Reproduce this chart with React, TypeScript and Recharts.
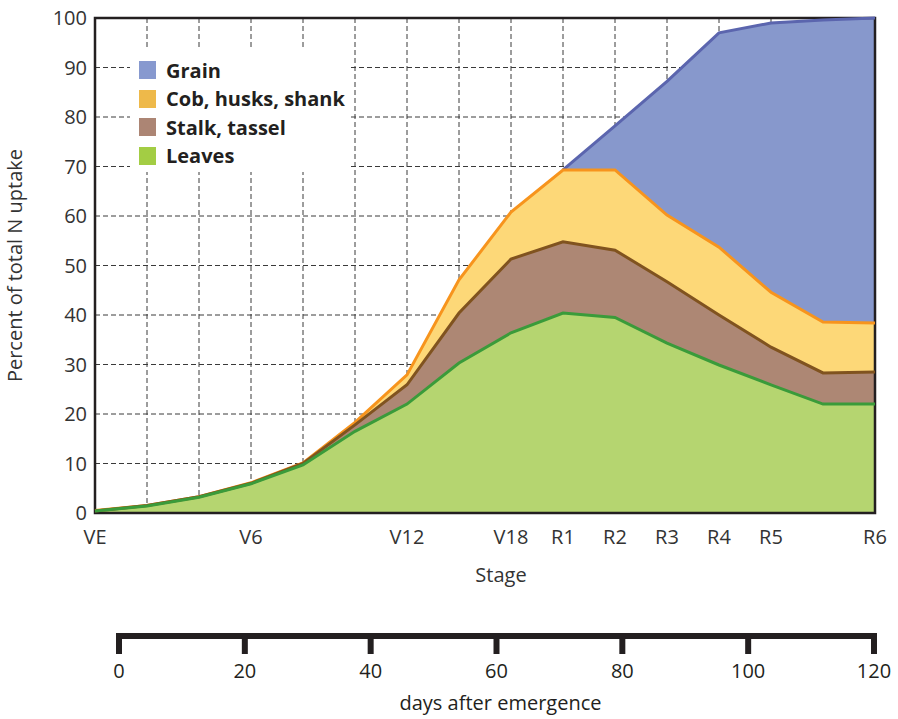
import {
  ComposedChart,
  Area,
  Line,
  XAxis,
  YAxis,
  CartesianGrid,
  ReferenceArea,
  Legend,
} from "recharts";

// x index 0..15, one per grid column
const stageLabels = ["VE", "", "", "V6", "", "", "V12", "", "V18", "R1", "R2", "R3", "R4", "R5", "", "R6"];

// percent of total N uptake, per plant part (stacked)
const leaves = [0.4, 1.4, 3.2, 5.9, 9.7, 16.5, 22, 30.3, 36.4, 40.4, 39.5, 34.3, 29.9, 25.9, 22, 22];
const stalk = [0, 0.1, 0.1, 0.1, 0.3, 1.3, 3.9, 10.1, 14.9, 14.4, 13.6, 12.4, 10.1, 7.6, 6.3, 6.5];
const cob = [0.1, 0, 0, 0.1, 0.1, 0.5, 2, 6.7, 9.5, 14.5, 16.2, 13.5, 13.7, 11.1, 10.3, 9.9];
const grain = [null, null, null, null, null, null, null, null, null, 0, 8.9, 27, 43.3, 54.4, 61, 61.6];

const yTicks = [0, 10, 20, 30, 40, 50, 60, 70, 80, 90, 100];
const dayTicks = [0, 20, 40, 60, 80, 100, 120];

const legendNames = ["Grain", "Cob, husks, shank", "Stalk, tassel", "Leaves"];
const legendColors = ["#8799cf", "#eeb94a", "#ac8574", "#a3cd44"];

const rows = stageLabels.map((stage, i) => {
  const leavesTop = leaves[i];
  const stalkTop = leavesTop + stalk[i];
  const cobTop = stalkTop + cob[i];
  const g = grain[i];
  return {
    x: i,
    stage,
    leaves: leaves[i],
    stalk: stalk[i],
    cob: cob[i],
    grain: g,
    leavesTop,
    stalkTop,
    cobTop,
    grainTop: g == null ? null : cobTop + g,
  };
});

const dayRows = dayTicks.map((d) => ({ d }));

const FONT = "'Open Sans', sans-serif";
const INK = "#231f20";

function LegendBox() {
  return (
    <div
      style={{
        background: "#fff",
        width: 220,
        height: 122,
        boxSizing: "border-box",
        padding: "6px 0 0 9px",
        fontFamily: FONT,
      }}
    >
      {legendNames.map((name, i) => (
        <div key={name} style={{ display: "flex", alignItems: "center", height: 28.5 }}>
          <span
            style={{
              display: "inline-block",
              width: 17,
              height: 18,
              background: legendColors[i],
              marginRight: 10,
            }}
          />
          <span style={{ fontWeight: 700, fontSize: 20, color: INK, whiteSpace: "nowrap" }}>
            {name}
          </span>
        </div>
      ))}
    </div>
  );
}

export default function App() {
  return (
    <div
      style={{
        position: "absolute",
        left: 0,
        top: 0,
        width: 898,
        height: 719,
        background: "#fff",
        fontFamily: FONT,
      }}
    >
      <div style={{ position: "absolute", left: 0, top: 0 }}>
        <ComposedChart
          width={898}
          height={600}
          data={rows}
          margin={{ top: 18, right: 23, left: 0, bottom: 0 }}
          style={{ fontFamily: FONT }}
        >
          <CartesianGrid stroke="#3a3a3a" strokeDasharray="5 3" strokeWidth={1} />
          <XAxis
            dataKey="x"
            type="number"
            domain={[0, 15]}
            ticks={rows.map((r) => r.x)}
            interval={0}
            tickFormatter={(v: number) => stageLabels[v] ?? ""}
            height={87}
            axisLine={false}
            tickLine={false}
            tickMargin={11}
            tick={{ fontSize: 20, fill: "#333" }}
            label={{
              content: ({ viewBox }: any) => (
                <text
                  x={viewBox.x + viewBox.width / 2 + 16}
                  y={viewBox.y + 69}
                  textAnchor="middle"
                  fontSize={20}
                  fill="#333"
                  fontFamily={FONT}
                >
                  Stage
                </text>
              ),
            }}
          />
          <YAxis
            type="number"
            domain={[0, 100]}
            ticks={yTicks}
            interval={0}
            width={95}
            axisLine={false}
            tickLine={false}
            tick={{ fontSize: 20, fill: "#333" }}
            label={{
              content: ({ viewBox }: any) => {
                const cx = 21.5;
                const cy = viewBox.y + viewBox.height / 2;
                return (
                  <text
                    x={cx}
                    y={cy}
                    transform={`rotate(-90, ${cx}, ${cy})`}
                    textAnchor="middle"
                    fontSize={20}
                    fill="#333"
                    fontFamily={FONT}
                  >
                    Percent of total N uptake
                  </text>
                );
              },
            }}
          />
          <Area dataKey="leaves" stackId="n" type="linear" fill="#b5d570" fillOpacity={1} stroke="none" isAnimationActive={false} />
          <Area dataKey="stalk" stackId="n" type="linear" fill="#ad8774" fillOpacity={1} stroke="none" isAnimationActive={false} />
          <Area dataKey="cob" stackId="n" type="linear" fill="#fdd878" fillOpacity={1} stroke="none" isAnimationActive={false} />
          <Area dataKey="grain" stackId="n" type="linear" fill="#8798cc" fillOpacity={1} stroke="none" isAnimationActive={false} />
          <Line dataKey="grainTop" type="linear" stroke="#5b65ae" strokeWidth={3} dot={false} activeDot={false} isAnimationActive={false} />
          <Line dataKey="cobTop" type="linear" stroke="#f7941d" strokeWidth={3} dot={false} activeDot={false} isAnimationActive={false} />
          <Line dataKey="stalkTop" type="linear" stroke="#80531f" strokeWidth={3} dot={false} activeDot={false} isAnimationActive={false} />
          <Line dataKey="leavesTop" type="linear" stroke="#3a9b3a" strokeWidth={3} dot={false} activeDot={false} isAnimationActive={false} />
          <ReferenceArea x1={0} x2={15} y1={0} y2={100} fill="none" stroke={INK} strokeWidth={2.5} />
          <Legend
            layout="vertical"
            align="center"
            verticalAlign="middle"
            content={() => <LegendBox />}
            wrapperStyle={{ left: 130, top: 50, width: 220, height: 122 }}
          />
        </ComposedChart>
      </div>
      <div style={{ position: "absolute", left: 0, top: 600 }}>
        <ComposedChart
          width={898}
          height={119}
          data={dayRows}
          margin={{ top: 10, right: 24, left: 119, bottom: 0 }}
          style={{ fontFamily: FONT }}
        >
          <XAxis
            dataKey="d"
            type="number"
            domain={[0, 120]}
            ticks={dayTicks}
            interval={0}
            height={83}
            axisLine={{ stroke: INK, strokeWidth: 6, strokeLinecap: "square" }}
            tickLine={{ stroke: INK, strokeWidth: 6 }}
            tickSize={18}
            tickMargin={10}
            tick={{ fontSize: 20, fill: INK }}
            label={{
              content: ({ viewBox }: any) => (
                <text
                  x={viewBox.x + viewBox.width / 2 + 4}
                  y={viewBox.y + 74}
                  textAnchor="middle"
                  fontSize={20}
                  fill={INK}
                  fontFamily={FONT}
                >
                  days after emergence
                </text>
              ),
            }}
          />
          <YAxis hide domain={[0, 1]} />
        </ComposedChart>
      </div>
    </div>
  );
}
